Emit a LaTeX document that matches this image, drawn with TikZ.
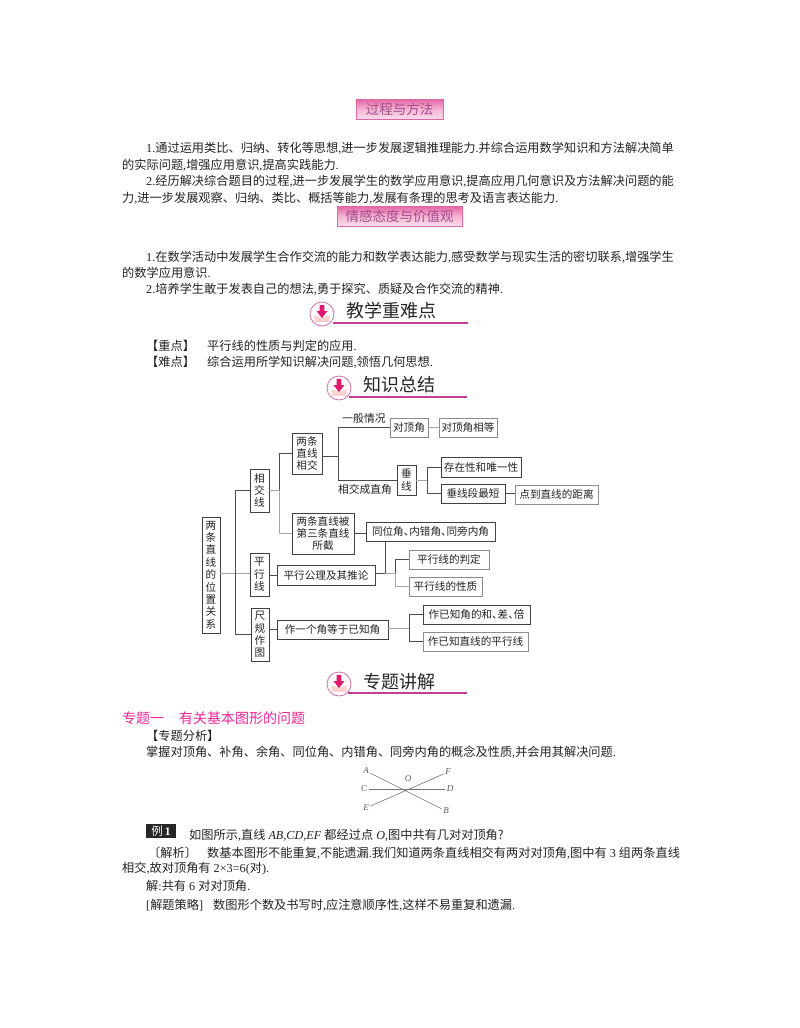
\documentclass[tikz,border=0pt]{standalone}
\usepackage{fontspec}
\setmainfont{Noto Sans CJK SC}
\newfontfamily\lat{Liberation Serif}
\usetikzlibrary{arrows.meta}
\newcommand{\dou}{{\lat,}}
\newcommand{\dian}{{\lat.}}
\newcommand{\dun}{\makebox[5.5pt][l]{、}}
\definecolor{inkgray}{HTML}{232323}
\definecolor{headpink}{HTML}{C2408F}
\definecolor{arrowpink}{HTML}{E0186C}
\definecolor{badgetop}{HTML}{E265A6}
\definecolor{badgemid}{HTML}{F5B3D2}
\definecolor{badgelow}{HTML}{FADFEC}
\definecolor{badgeink}{HTML}{A44C8C}
\tikzset{
    x=1pt, y=-1pt,
    txt/.style={anchor=west, inner sep=0pt, text=inkgray, font=\fontsize{12.2}{14}\selectfont},
    badge/.style={draw=badgetop, line width=1pt, top color=badgetop, bottom color=badgelow, middle color=badgemid, inner sep=0pt, text=badgeink, font=\fontsize{13.5}{15}\selectfont},
    headtxt/.style={anchor=west, inner sep=0pt, text=black!85, font=\fontsize{18}{20}\selectfont},
    headline/.style={draw=headpink, line width=1.1pt},
    box/.style={draw=black!75, line width=0.9pt, fill=white, inner sep=0pt, text=inkgray, align=center, font=\fontsize{10.6}{12.4}\selectfont},
    grayfine/.style={draw=black!45},
    link/.style={draw=black!70, line width=0.9pt},
    linkpale/.style={draw=black!35, line width=0.9pt},
    note/.style={inner sep=0pt, text=inkgray, font=\fontsize{10.8}{13}\selectfont},
    pointlabel/.style={inner sep=1.5pt, text=black!65, font=\lat\itshape\fontsize{9}{10}\selectfont},
    ray/.style={draw=black!55, line width=0.6pt},
    headmark/.pic={
        \fill[white] (0,0) circle (12);
        \fill[pink!70] (-7.5,1) -- (-3,3) -- (3,3) -- (7.5,1) -- (7.5,8) -- (-7.5,8) -- cycle;
        \draw[headpink!75, line width=0.8pt] (0,0) circle (12);
        \fill[arrowpink] (-2.3,-9) rectangle (2.3,-3) (-5.5,-3) -- (5.5,-3) -- (0,4) -- cycle;
    }
}
\begin{document}
\begin{tikzpicture}
    \useasboundingbox[fill=white] (0,0) rectangle (800,1028);
    % objectives
    \node[badge, minimum width=87, minimum height=20](bprocess) at (399.5,109){过程与方法};
    \node[txt](p1) at (146,148){{\lat 1.}通过运用类比、归纳、转化等思想\dou{}进一步发展逻辑推理能力\dian{}并综合运用数学知识和方法解决简单};
    \node[txt](p2) at (122,165){的实际问题\dou{}增强应用意识\dou{}提高实践能力\dian};
    \node[txt](p3) at (146,181){{\lat 2.}经历解决综合题目的过程\dou{}进一步发展学生的数学应用意识\dou{}提高应用几何意识及方法解决问题的能};
    \node[txt](p4) at (122,198){力\dou{}进一步发展观察、归纳、类比、概括等能力\dou{}发展有条理的思考及语言表达能力\dian};
    \node[badge, minimum width=125, minimum height=20](bemotion) at (399.5,216){情感态度与价值观};
    \node[txt](e1) at (146,257){{\lat 1.}在数学活动中发展学生合作交流的能力和数学表达能力\dou{}感受数学与现实生活的密切联系\dou{}增强学生};
    \node[txt](e2) at (122,273){的数学应用意识\dian};
    \node[txt](e3) at (146,289){{\lat 2.}培养学生敢于发表自己的想法\dou{}勇于探究、质疑及合作交流的精神\dian};
    % key points
    \draw[headline] (333,323) -- (468,323);
    \pic at (322,314) {headmark};
    \node[headtxt](hkey) at (346,311){教学重难点};
    \node[txt](k1) at (146,346){【重点】};
    \node[txt](k2) at (207,346){平行线的性质与判定的应用\dian};
    \node[txt](k3) at (146,362){【难点】};
    \node[txt](k4) at (207,362){综合运用所学知识解决问题\dou{}领悟几何思想\dian};
    % knowledge tree
    \draw[headline] (349,397) -- (467,397);
    \pic at (339,388) {headmark};
    \node[headtxt](hsum) at (363,385){知识总结};
    \node[box, minimum width=18, minimum height=116, text width=14pt](root) at (211,575){两\\条\\直\\线\\的\\位\\置\\关\\系};
    \node[box, minimum width=19, minimum height=43, text width=14pt](xjx) at (259.5,490.5){相\\交\\线};
    \node[box, minimum width=19, minimum height=43, text width=14pt](pxx) at (259.5,574.5){平\\行\\线};
    \node[box, minimum width=18, minimum height=53, text width=14pt](cgzt) at (260,634.5){尺\\规\\作\\图};
    \node[box, minimum width=30, minimum height=41, text width=28pt](lxj) at (307,453.5){两条\\直线\\相交};
    \node[box, minimum width=62, minimum height=41, text width=60pt](ljx) at (323,533.5){两条直线被\\第三条直线\\所截};
    \node[box, minimum width=98, minimum height=20](pgl) at (326,575){平行公理及其推论};
    \node[box, minimum width=111, minimum height=19](zyj) at (332.5,629.5){作一个角等于已知角};
    \node[box, grayfine, minimum width=38, minimum height=19](dd) at (409,427.5){对顶角};
    \node[box, grayfine, minimum width=58, minimum height=19](ddx) at (468,427.5){对顶角相等};
    \node[box, minimum width=19, minimum height=30, text width=14pt](cx) at (406.5,480){垂\\线};
    \node[box, minimum width=80, minimum height=20](czx) at (481,467){存在性和唯一性};
    \node[box, minimum width=64, minimum height=19](cxd) at (473,493.5){垂线段最短};
    \node[box, grayfine, minimum width=83, minimum height=19](djl) at (556.5,494.5){点到直线的距离};
    \node[box, minimum width=129, minimum height=19](twj) at (430.5,531.5){同位角\dun{}内错角\dun{}同旁内角};
    \node[box, grayfine, minimum width=80, minimum height=19](pd) at (449,559.5){平行线的判定};
    \node[box, grayfine, minimum width=73, minimum height=19](xz) at (445.5,586.5){平行线的性质};
    \node[box, minimum width=107, minimum height=19](hcb) at (476.5,614.5){作已知角的和\dun{}差\dun{}倍};
    \node[box, grayfine, minimum width=105, minimum height=19](pxz) at (475.5,641.5){作已知直线的平行线};
    \node[note](ybqk) at (364,418){一般情况};
    \node[note](xjzj) at (365,489){相交成直角};
    \coordinate (jroot) at (235,573);
    \coordinate (jxj) at (279,490);
    \coordinate (jlx) at (338,456);
    \coordinate (jcx) at (427,480);
    \coordinate (jpg) at (385,573);
    \coordinate (jpx) at (395,573);
    \coordinate (jzy) at (409,628);
    \draw[linkpale] (root.east |- jroot) -- (pxx.west |- jroot);
    \draw[link] (jroot) |- (xjx.west);
    \draw[link] (jroot) |- (cgzt.west);
    \draw[linkpale] (xjx.east |- jxj) -- (jxj);
    \draw[link] (jxj) |- (lxj.west);
    \draw[linkpale] (jxj) |- (ljx.west);
    \draw[link] (lxj.east |- jlx) -- (jlx);
    \draw[link] (jlx) |- (dd.west);
    \draw[link] (jlx) |- (cx.west);
    \draw[linkpale] (dd) -- (ddx);
    \draw[linkpale] (cx) -- (jcx);
    \draw[link] (jcx) |- (czx.west);
    \draw[link] (jcx) |- (cxd.west);
    \draw[link] (cxd) -- (cxd -| djl.west);
    \draw[link] (ljx) -- (ljx -| twj.west);
    \draw[link] (pxx.east |- pgl) -- (pgl);
    \draw[link] (pgl.east |- jpg) -- (jpg);
    \draw[link] (twj.south -| jpg) -- (jpg);
    \draw[linkpale] (jpg) -- (jpx);
    \draw[link] (jpx) |- (pd.west);
    \draw[linkpale] (jpx) |- (xz.west);
    \draw[link] (cgzt.east |- zyj) -- (zyj);
    \draw[linkpale] (zyj.east |- jzy) -- (jzy);
    \draw[link] (jzy) |- (hcb.west);
    \draw[link] (jzy) |- (pxz.west);
    % topic
    \draw[headline] (348,693) -- (467,693);
    \pic at (339,684) {headmark};
    \node[headtxt](htopic) at (363,682){专题讲解};
    \node[txt, text=magenta!80!pink, font=\fontsize{14}{16}\selectfont](t1) at (122,718){专题一};
    \node[txt, text=magenta!80!pink, font=\fontsize{14}{16}\selectfont](t2) at (179,718){有关基本图形的问题};
    \node[txt](t3) at (146,736){【专题分析】};
    \node[txt](t4) at (146,752){掌握对顶角、补角、余角、同位角、内错角、同旁内角的概念及性质\dou{}并会用其解决问题\dian};
    % lines through O
    \node[pointlabel](ptA) at (366,771){A};
    \node[pointlabel](ptB) at (446,811){B};
    \node[pointlabel](ptC) at (364,789){C};
    \node[pointlabel](ptD) at (450,789){D};
    \node[pointlabel](ptE) at (366,808){E};
    \node[pointlabel](ptF) at (448,772){F};
    \node[pointlabel](ptO) at (408,779){O};
    \draw[ray] (ptA) -- (ptB);
    \draw[ray] (ptC) -- (ptD);
    \draw[ray] (ptE) -- (ptF);
    % example
    \node[fill=black!85, text=white, inner sep=0pt, minimum width=30, minimum height=14, font=\fontsize{11.5}{12}\selectfont](ex) at (161,831){例\,{\lat\bfseries 1}};
    \node[txt](x1) at (189,835){如图所示\dou{}直线{\lat\itshape\ AB,CD,EF\ }都经过点{\lat\itshape\ O}\dou{}图中共有几对对顶角?};
    \node[txt](x2) at (148,853){〔解析〕};
    \node[txt](x3) at (207,853){数基本图形不能重复\dou{}不能遗漏\dian{}我们知道两条直线相交有两对对顶角\dou{}图中有{\lat\ 3\ }组两条直线};
    \node[txt](x4) at (122,869){相交\dou{}故对顶角有{\lat\ 2×3=6(}对{\lat ).}};
    \node[txt](x5) at (146,886){解{\lat :}共有{\lat\ 6\ }对对顶角\dian};
    \node[txt](x6) at (146,905){{\lat [}解题策略{\lat ]}};
    \node[txt](x7) at (213,905){数图形个数及书写时\dou{}应注意顺序性\dou{}这样不易重复和遗漏\dian};
\end{tikzpicture}
\end{document}
